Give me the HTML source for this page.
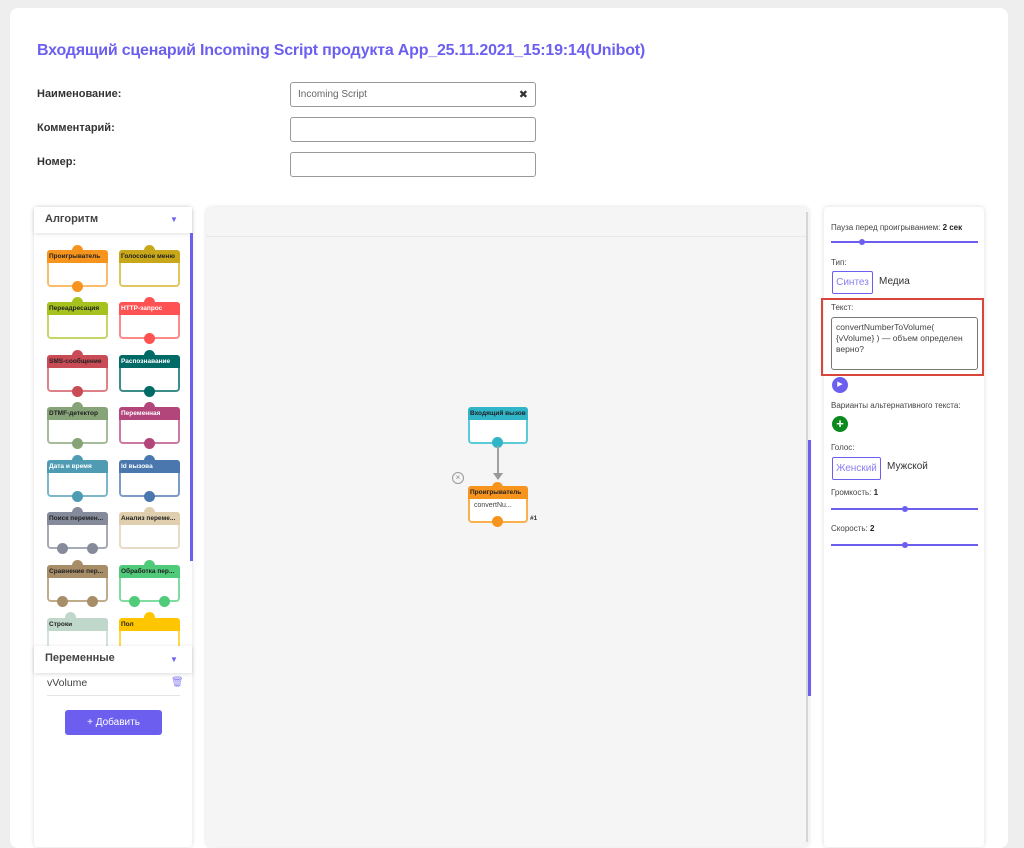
<!DOCTYPE html>
<html><head><meta charset="utf-8"><style>
*{box-sizing:border-box;margin:0;padding:0}
body{width:1024px;height:834px;background:#eeeeee;font-family:"Liberation Sans","DejaVu Sans",sans-serif;position:relative;overflow:hidden;color:#333}
.a{position:absolute}
.card{left:10px;top:8px;width:998px;height:840px;background:#fff;border-radius:8px}
.title{left:37px;top:42px;font-size:16px;font-weight:bold;color:#6c5ff0;white-space:nowrap;letter-spacing:-0.2px}
.lbl{left:37px;font-size:11px;font-weight:bold;color:#333}
.inp{left:290px;width:246px;height:25px;border:1px solid #999;border-radius:3px;background:#fff}
.panel{background:#fff;box-shadow:0 0 5px rgba(0,0,0,0.15);border-radius:4px}
.blk{position:absolute;width:61px;height:36px}
.blk .h{position:absolute;left:0;top:0;width:61px;height:13px;border-radius:3px 3px 0 0;font-size:6.5px;font-weight:bold;line-height:13px;padding-left:2px;white-space:nowrap;overflow:hidden;color:#222}
.blk .b{position:absolute;left:0;top:13px;width:61px;height:24px;border:2px solid;border-top:none;border-radius:0 0 4px 4px;background:#fff}
.blk .t{position:absolute;left:25px;top:-5px;width:11px;height:11px;border-radius:50%}
.blk .d{position:absolute;top:31px;width:11px;height:11px;border-radius:50%}
.sm{font-size:8px;color:#444}
.sl{position:absolute;left:831px;width:147px;height:2px;background:#6c5ff0}
.sl i{position:absolute;top:-2px;width:6px;height:6px;border-radius:50%;background:#6c5ff0}
</style></head><body>
<div class="a card"></div>
<div class="a title">Входящий сценарий Incoming Script продукта App_25.11.2021_15:19:14(Unibot)</div>
<div class="a lbl" style="top:88px">Наименование:</div>
<div class="a lbl" style="top:122px">Комментарий:</div>
<div class="a lbl" style="top:156px">Номер:</div>
<div class="a inp" style="top:82px"><span class="a" style="left:7px;top:6px;font-size:10px;color:#666">Incoming Script</span><span class="a" style="right:7px;top:5px;font-size:11px;font-weight:bold">✖</span></div>
<div class="a inp" style="top:117px"></div>
<div class="a inp" style="top:152px"></div>

<div class="a panel" style="left:34px;top:207px;width:158px;height:640px"></div>
<div class="a" style="left:34px;top:207px;width:158px;height:26px;background:#fff;box-shadow:0 1px 4px rgba(0,0,0,0.12)"><span class="a" style="left:11px;top:6px;font-size:11px;font-weight:bold;color:#444">Алгоритм</span><span class="a" style="left:136px;top:8px;font-size:8px;color:#6c5ff0">▼</span></div>
<div class="a" style="left:190px;top:233px;width:3px;height:328px;background:#6c5ff0"></div>

<div class="blk" style="left:47px;top:250px"><div class="t" style="background:#f7941d"></div><div class="h" style="background:#f7941d">Проигрыватель</div><div class="b" style="border-color:#fbbd6c"></div><div class="d" style="left:25px;background:#f7941d"></div></div>
<div class="blk" style="left:119px;top:250px"><div class="t" style="background:#c8a81a"></div><div class="h" style="background:#c8a81a">Голосовое меню</div><div class="b" style="border-color:#e0c860"></div></div>
<div class="blk" style="left:47px;top:302px"><div class="t" style="background:#a6c21e"></div><div class="h" style="background:#a6c21e">Переадресация</div><div class="b" style="border-color:#c4d868"></div></div>
<div class="blk" style="left:119px;top:302px"><div class="t" style="background:#ff5252"></div><div class="h" style="background:#ff5252;color:#fff">HTTP-запрос</div><div class="b" style="border-color:#ff8a8a"></div><div class="d" style="left:25px;background:#ff5252"></div></div>
<div class="blk" style="left:47px;top:355px"><div class="t" style="background:#c94b55"></div><div class="h" style="background:#c94b55">SMS-сообщение</div><div class="b" style="border-color:#de8088"></div><div class="d" style="left:25px;background:#c94b55"></div></div>
<div class="blk" style="left:119px;top:355px"><div class="t" style="background:#006a66"></div><div class="h" style="background:#006a66;color:#fff">Распознавание</div><div class="b" style="border-color:#3d8c88"></div><div class="d" style="left:25px;background:#006a66"></div></div>
<div class="blk" style="left:47px;top:407px"><div class="t" style="background:#87a378"></div><div class="h" style="background:#87a378">DTMF-детектор</div><div class="b" style="border-color:#a6bb9a"></div><div class="d" style="left:25px;background:#87a378"></div></div>
<div class="blk" style="left:119px;top:407px"><div class="t" style="background:#b2467a"></div><div class="h" style="background:#b2467a;color:#fff">Переменная</div><div class="b" style="border-color:#cc7aa2"></div><div class="d" style="left:25px;background:#b2467a"></div></div>
<div class="blk" style="left:47px;top:460px"><div class="t" style="background:#4f9bb3"></div><div class="h" style="background:#4f9bb3;color:#fff">Дата и время</div><div class="b" style="border-color:#7cb6c8"></div><div class="d" style="left:25px;background:#4f9bb3"></div></div>
<div class="blk" style="left:119px;top:460px"><div class="t" style="background:#4a78ae"></div><div class="h" style="background:#4a78ae;color:#fff">Id вызова</div><div class="b" style="border-color:#7b9cc6"></div><div class="d" style="left:25px;background:#4a78ae"></div></div>
<div class="blk" style="left:47px;top:512px"><div class="t" style="background:#858b9a"></div><div class="h" style="background:#858b9a">Поиск перемен...</div><div class="b" style="border-color:#a5aab6"></div><div class="d" style="left:10px;background:#858b9a"></div><div class="d" style="left:40px;background:#858b9a"></div></div>
<div class="blk" style="left:119px;top:512px"><div class="t" style="background:#dfcfae"></div><div class="h" style="background:#dfcfae">Анализ переме...</div><div class="b" style="border-color:#e8dcc6"></div></div>
<div class="blk" style="left:47px;top:565px"><div class="t" style="background:#a88e68"></div><div class="h" style="background:#a88e68">Сравнение пер...</div><div class="b" style="border-color:#c0ab8c"></div><div class="d" style="left:10px;background:#a88e68"></div><div class="d" style="left:40px;background:#a88e68"></div></div>
<div class="blk" style="left:119px;top:565px"><div class="t" style="background:#4fcb7a"></div><div class="h" style="background:#4fcb7a">Обработка пер...</div><div class="b" style="border-color:#80dca0"></div><div class="d" style="left:10px;background:#4fcb7a"></div><div class="d" style="left:40px;background:#4fcb7a"></div></div>
<div class="blk" style="left:47px;top:618px;height:28px;overflow:hidden"><div class="h" style="background:#c0d8cc">Строки</div><div class="b" style="border-color:#d2e4da"></div></div>
<div class="blk" style="left:119px;top:618px;height:28px;overflow:hidden"><div class="h" style="background:#ffc600">Пол</div><div class="b" style="border-color:#ffd84a"></div></div>
<div class="a" style="left:65px;top:612px;width:11px;height:11px;border-radius:50%;background:#c0d8cc"></div>
<div class="a" style="left:144px;top:612px;width:11px;height:11px;border-radius:50%;background:#ffc600"></div>

<div class="a" style="left:34px;top:646px;width:158px;height:27px;background:#fff;box-shadow:0 1px 4px rgba(0,0,0,0.15)"><span class="a" style="left:11px;top:6px;font-size:11px;font-weight:bold;color:#444">Переменные</span><span class="a" style="left:136px;top:9px;font-size:8px;color:#6c5ff0">▼</span></div>
<div class="a" style="left:47px;top:677px;font-size:10.5px;color:#444">vVolume</div>
<div class="a" style="left:171px;top:677px;font-size:10px;color:#8a80f0">🗑</div>
<div class="a" style="left:47px;top:695px;width:133px;height:1px;background:#e5e5e5"></div>
<div class="a" style="left:65px;top:710px;width:97px;height:25px;background:#6c5ff0;border-radius:3px;color:#fff;font-size:10px;text-align:center;line-height:25px">+ Добавить</div>

<div class="a" style="left:206px;top:207px;width:603px;height:640px;background:#f5f5f5;border-radius:6px;box-shadow:0 0 4px rgba(0,0,0,0.12)"></div>
<div class="a" style="left:206px;top:236px;width:601px;height:1px;background:#e8e8e8"></div>
<div class="a" style="left:806px;top:212px;width:2px;height:630px;background:#d5d5d5"></div>
<div class="a" style="left:808px;top:440px;width:3px;height:256px;background:#6c5ff0"></div>

<div class="blk" style="left:468px;top:407px;width:60px"><div class="h" style="background:#2fb4c8;width:60px">Входящий вызов</div><div class="b" style="border-color:#5ccbd9;width:60px"></div><div class="d" style="left:24px;top:30px;background:#2fb4c8"></div></div>
<div class="a" style="left:497px;top:446px;width:2px;height:30px;background:#a0a0a0"></div>
<div class="a" style="left:493px;top:473px;width:0;height:0;border-left:5px solid transparent;border-right:5px solid transparent;border-top:7px solid #999"></div>
<div class="a" style="left:452px;top:472px;width:12px;height:12px;border:1px solid #999;border-radius:50%;font-size:8px;line-height:10px;text-align:center;color:#888">×</div>
<div class="blk" style="left:468px;top:486px;width:60px"><div class="t" style="background:#f7941d;left:24px;top:-4px"></div><div class="h" style="background:#f7941d;width:60px">Проигрыватель</div><div class="b" style="border-color:#fbb050;width:60px"><span class="a" style="left:4px;top:3px;font-size:7px;color:#444">convertNu...</span></div><div class="d" style="left:24px;top:30px;background:#f7941d"></div></div>
<div class="a" style="left:530px;top:515px;font-size:6.5px;font-weight:bold">#1</div>

<div class="a panel" style="left:824px;top:207px;width:160px;height:640px"></div>
<div class="a sm" style="left:831px;top:223px">Пауза перед проигрыванием: <b style="color:#222">2 сек</b></div>
<div class="sl" style="top:241px"><i style="left:28px"></i></div>
<div class="a sm" style="left:831px;top:258px">Тип:</div>
<div class="a" style="left:832px;top:271px;width:41px;height:23px;border:1px solid #6c5ff0;border-radius:2px;color:#8a80f0;font-size:10px;line-height:21px;text-align:center">Синтез</div>
<div class="a" style="left:879px;top:276px;font-size:10px;color:#333">Медиа</div>
<div class="a" style="left:821px;top:298px;width:163px;height:78px;border:2px solid #d9453b"></div>
<div class="a sm" style="left:831px;top:303px">Текст:</div>
<div class="a" style="left:831px;top:317px;width:147px;height:53px;border:1px solid #777;border-radius:3px;font-size:8.5px;line-height:11px;padding:4px 4px;color:#444">convertNumberToVolume( {vVolume} ) — объем определен верно?</div>
<div class="a" style="left:832px;top:377px;width:16px;height:16px;border-radius:50%;background:#6c5ff0;color:#fff;font-size:7px;line-height:16px;text-align:center">▶</div>
<div class="a sm" style="left:831px;top:401px">Варианты альтернативного текста:</div>
<div class="a" style="left:832px;top:416px;width:16px;height:16px;border-radius:50%;background:#0b8a1e;color:#fff;font-size:13px;font-weight:bold;line-height:16px;text-align:center">+</div>
<div class="a sm" style="left:831px;top:443px">Голос:</div>
<div class="a" style="left:832px;top:457px;width:49px;height:23px;border:1px solid #6c5ff0;border-radius:2px;color:#8a80f0;font-size:10px;line-height:21px;text-align:center">Женский</div>
<div class="a" style="left:887px;top:461px;font-size:10px;color:#333">Мужской</div>
<div class="a sm" style="left:831px;top:488px">Громкость: <b style="color:#222">1</b></div>
<div class="sl" style="top:508px"><i style="left:71px"></i></div>
<div class="a sm" style="left:831px;top:524px">Скорость: <b style="color:#222">2</b></div>
<div class="sl" style="top:544px"><i style="left:71px"></i></div>
</body></html>
